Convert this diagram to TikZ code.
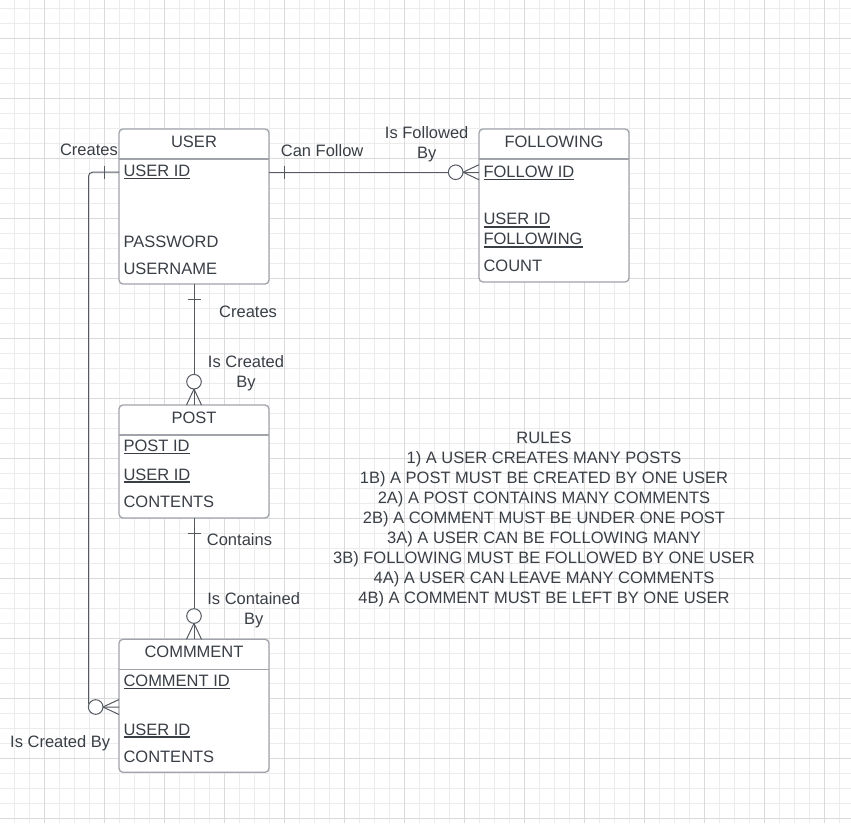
\documentclass[tikz,border=0pt]{standalone}
\usepackage{fontspec}
\setmainfont{Liberation Sans}
\usetikzlibrary{positioning}

\definecolor{ink}{RGB}{58,63,70}
\definecolor{edgec}{RGB}{85,90,97}
\definecolor{boxc}{RGB}{160,164,170}
\definecolor{gridlt}{RGB}{236,236,236}
\definecolor{griddk}{RGB}{218,218,218}

% underlined key field
\newsavebox\keybox
\newcommand{\keyfield}[1]{\sbox\keybox{#1}\rlap{\rule[-2.6pt]{\wd\keybox}{1.3pt}}\usebox\keybox}

\tikzset{
  entity/.style={draw=boxc, fill=white, line width=1.3pt, rounded corners=4pt,
    anchor=north west, minimum width=150pt, inner sep=0pt, outer sep=0pt},
  divider/.style={draw=boxc, line width=1.3pt},
  conn/.style={draw=edgec, line width=1pt},
  txt/.style={text=ink, font=\fontsize{16.5}{20}\selectfont, inner sep=0pt},
  field/.style={txt, anchor=base west},
  headtext/.style={txt, anchor=base},
  minorgrid/.style={draw=gridlt, line width=0.8pt},
  majorgrid/.style={draw=griddk, line width=0.8pt},
  pics/zeromany/.style={code={
    \draw[conn, fill=white] (0,0) circle (7.3);
    \draw[conn] (7.3,0) -- (23.3,-7.5) (7.3,0) -- (23.3,7.5);
  }},
  pics/onebar/.style={code={\draw[conn] (0,-6.5) -- (0,6.5);}}
}

\begin{document}
\begin{tikzpicture}[x=1pt, y=-1pt]
    \path[use as bounding box, fill=white] (0,0) rectangle (851,823);

    % grid
    \foreach \i in {0,...,55} \draw[minorgrid] ({14.3+15*\i},0) -- ++(0,823);
    \foreach \i in {0,...,54} \draw[minorgrid] (0,{8.3+15*\i}) -- ++(851,0);
    \foreach \i in {0,...,13} {
        \draw[majorgrid] ({44.3+60*\i},0) -- ++(0,823);
        \draw[majorgrid] (0,{38.3+60*\i}) -- ++(851,0);
    }

    % entities
    \node[entity, minimum height=155pt] (user) at (119,129) {};
    \node[entity, minimum height=153pt] (fol) at (479,129) {};
    \node[entity, minimum height=113pt] (post) at (119,405) {};
    \node[entity, minimum height=133pt] (cmt) at (119,639.3) {};
    \draw[divider] (user.north west) ++(0,30) -- ++(150,0);
    \draw[divider] (fol.north west) ++(0,30) -- ++(150,0);
    \draw[divider] (post.north west) ++(0,30) -- ++(150,0);
    \draw[divider] (cmt.north west) ++(0,30) -- ++(150,0);

    \node[headtext] (usert) at (194,147.3) {USER};
    \node[field] (uid) at (123.3,176.7) {\keyfield{USER ID}};
    \node[field] (upw) at (123.3,247.3) {PASSWORD};
    \node[field] (uname) at (123.3,274) {USERNAME};

    \node[headtext] (folt) at (554,147.3) {FOLLOWING};
    \node[field] (fid) at (483.3,177.3) {\keyfield{FOLLOW ID}};
    \node[txt, anchor=north west, align=left] (fuid) at (483.3,213.2) {\keyfield{USER ID}\\\keyfield{FOLLOWING}};
    \node[field] (fcount) at (483.3,271.7) {COUNT};

    \node[headtext] (postt) at (194,423.3) {POST};
    \node[field] (pid) at (123.3,451.7) {\keyfield{POST ID}};
    \node[field] (puid) at (123.3,480) {\keyfield{USER ID}};
    \node[field] (pcont) at (123.3,507.3) {CONTENTS};

    \node[headtext] (cmtt) at (194,657.7) {COMMMENT};
    \node[field] (cid) at (123.3,686.7) {\keyfield{COMMENT ID}};
    \node[field] (cuid) at (123.3,735) {\keyfield{USER ID}};
    \node[field] (ccont) at (123.3,762.3) {CONTENTS};
    \coordinate (cref) at (119,707);

    % relationships
    \draw[conn] (user.east |- uid.west) -- (fol.west |- uid.west);
    \pic at ([xshift=15pt]user.east |- uid.west) {onebar};
    \pic at ([xshift=-23.3pt]fol.west |- uid.west) {zeromany};

    \draw[conn] (user.south) -- (post.north);
    \pic[rotate=90] at ([yshift=-15pt]user.south) {onebar};
    \pic[rotate=-90] at ([yshift=23.3pt]post.north) {zeromany};

    \draw[conn] (post.south) -- (cmt.north);
    \pic[rotate=90] at ([yshift=-15pt]post.south) {onebar};
    \pic[rotate=-90] at ([yshift=23.3pt]cmt.north) {zeromany};

    \draw[conn, rounded corners=4pt] (user.west |- uid.west) -| ([xshift=-30.5pt]cref) -- (cref);
    \pic at ([xshift=-15pt]user.west |- uid.west) {onebar};
    \pic at ([xshift=-23.3pt]cref) {zeromany};

    % labels
    \node[txt, anchor=base east] (crtl) at (118,155.7) {Creates};
    \node[txt, anchor=base west] (canf) at (280.7,156) {Can Follow};
    \node[txt, anchor=north, align=center] (isfol) at (426.7,126.4) {Is Followed\\By};
    \node[txt, anchor=base west] (crtm) at (219,317.7) {Creates};
    \node[txt, anchor=north, align=center] (iscr) at (246,355.4) {Is Created\\By};
    \node[txt, anchor=north, align=center] (iscon) at (253.7,592.4) {Is Contained\\By};
    \node[txt, anchor=base west] (cont) at (206.7,545) {Contains};
    \node[txt, anchor=base west] (iscrb) at (10,747.3) {Is Created By};

    \node[txt, anchor=north, align=center] (rules) at (544,432.2) {RULES\\
        1) A USER CREATES MANY POSTS\\
        1B) A POST MUST BE CREATED BY ONE USER\\
        2A) A POST CONTAINS MANY COMMENTS\\
        2B) A COMMENT MUST BE UNDER ONE POST\\
        3A) A USER CAN BE FOLLOWING MANY\\
        3B) FOLLOWING MUST BE FOLLOWED BY ONE USER\\
        4A) A USER CAN LEAVE MANY COMMENTS\\
        4B) A COMMENT MUST BE LEFT BY ONE USER};
\end{tikzpicture}
\end{document}
